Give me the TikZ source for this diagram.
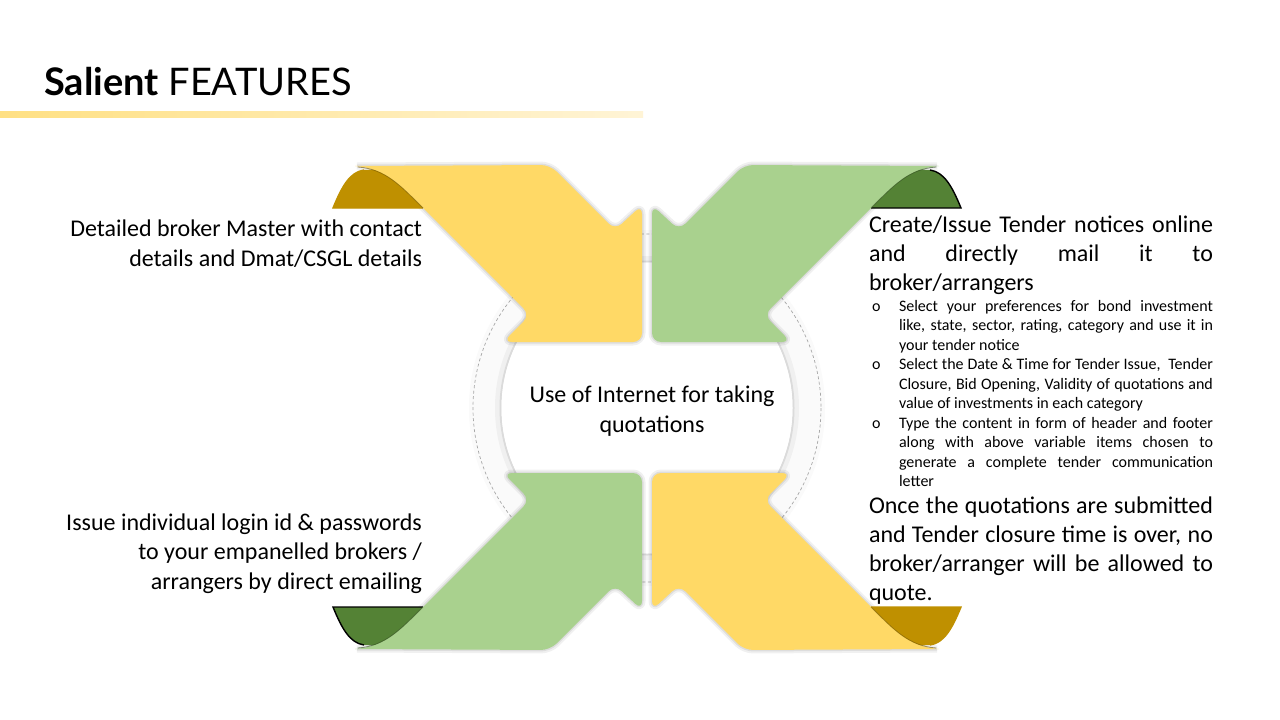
\documentclass[tikz,border=0pt]{standalone}
\usepackage{fontspec}
\setmainfont{Carlito}
\newfontfamily\titlefont{Lato}
\definecolor{ylw}{HTML}{FFD966}
\definecolor{ylwdark}{HTML}{BF9000}
\definecolor{grn}{HTML}{A9D18E}
\definecolor{grndark}{HTML}{548235}
\definecolor{barleft}{HTML}{FFE083}
\definecolor{barright}{HTML}{FFF4D6}
\newcommand{\ribbonshape}[3]{%
  % soft halo
  \draw[black, opacity=0.06, line width=7pt, line join=round]
    (357,166) .. controls (385,168) and (400,185) .. (423,208)
    [rounded corners=9pt] -- (530,315) -- (503,342) -- (642,342) -- (642,205) -- (615,230) -- (550,165)
    [sharp corners] -- (357,166);
  \draw[black, opacity=0.08, line width=3pt, line join=round]
    (357,166) .. controls (385,168) and (400,185) .. (423,208)
    [rounded corners=9pt] -- (530,315) -- (503,342) -- (642,342) -- (642,205) -- (615,230) -- (550,165)
    [sharp corners] -- (357,166);
  % dark curl
  \fill[#2] (333,208) .. controls (342,186) and (350,172) .. (364,170) -- (423,167) -- (423,208) -- cycle;
  \draw[#3, line width=1.4pt] (423,208) -- (333,208) .. controls (342,186) and (350,172) .. (364,170);
  % ribbon
  \fill[#1] (355,166) .. controls (385,168) and (400,185) .. (423,208)
    [rounded corners=9pt] -- (530,315) -- (503,342) -- (642,342) -- (642,205) -- (615,230) -- (550,165)
    [sharp corners] -- (355,166);
  \draw[#2!60!black, line width=0.8pt, opacity=0.6] (358,167) .. controls (385,169) and (400,185) .. (423,208);
}
\tikzset{
  bodytext/.style={font=\fontsize{24}{29.3}\selectfont, inner sep=0pt, outer sep=0pt},
  smalltext/.style={font=\fontsize{16}{19.5}\selectfont, inner sep=0pt, outer sep=0pt},
}
\begin{document}
\begin{tikzpicture}[x=1pt,y=-1pt]
\useasboundingbox (0,0) rectangle (1280,720);
\fill[white] (0,0) rectangle (1280,720);

% title
\node[anchor=base west, inner sep=0pt, font=\titlefont\fontsize{38}{42}\selectfont] (title) at (44,95) {\textbf{Salient} FEATURES};
\shade[left color=barleft, right color=barright] (0,111) rectangle (643,117);

% centre circles
\fill[gray!4] (647,408) circle[radius=178];
\draw[gray!70, dashed, line width=0.7pt, dash pattern=on 3pt off 2.5pt] (647,408) circle[radius=174];
\draw[gray!12, line width=6pt] (647,408) circle[radius=149];
\draw[gray!28, line width=2pt] (647,408) circle[radius=146.5];
\fill[white] (647,408) circle[radius=145.5];

% ribbons
\begin{scope}
  \ribbonshape{ylw}{ylwdark}{ylwdark}
\end{scope}
\begin{scope}[shift={(1294,0)}, xscale=-1]
  \ribbonshape{grn}{grndark}{black}
\end{scope}
\begin{scope}[shift={(0,815)}, yscale=-1]
  \ribbonshape{grn}{grndark}{black}
\end{scope}
\begin{scope}[shift={(1294,815)}, xscale=-1, yscale=-1]
  \ribbonshape{ylw}{ylwdark}{ylwdark}
\end{scope}

% centre text (base anchor = last line)
\node[bodytext, anchor=base, align=center] (ctr) at (652,432) {Use of Internet for taking\\quotations};

% left texts (base anchor = last line)
\node[bodytext, anchor=base east, align=right] (tl) at (422,266) {Detailed broker Master with contact\\details and Dmat/CSGL details};
\node[bodytext, anchor=base east, align=right] (bl) at (422,589) {Issue individual login id \& passwords\\to your empanelled brokers /\\arrangers by direct emailing};

% right texts
\node[bodytext, anchor=base west, text width=344pt, align=justify] (tr) at (869,232)
  {Create/Issue Tender notices online\linebreak and directly mail it to\linebreak broker/arrangers};

\node[smalltext, anchor=base west] (o1) at (872,311) {o};
\node[smalltext, anchor=base west, text width=314pt, align=justify] (p1) at (899,311)
  {Select your preferences for bond investment\linebreak like, state, sector, rating, category and use it in\linebreak your tender notice};
\node[smalltext, anchor=base west] (o2) at (872,369.5) {o};
\node[smalltext, anchor=base west, text width=314pt, align=justify] (p2) at (899,369.5)
  {Select the Date \& Time for Tender Issue,\ \ Tender\linebreak Closure, Bid Opening, Validity of quotations and\linebreak value of investments in each category};
\node[smalltext, anchor=base west] (o3) at (872,428) {o};
\node[smalltext, anchor=base west, text width=314pt, align=justify] (p3) at (899,428)
  {Type the content in form of header and footer\linebreak along with above variable items chosen to\linebreak generate a complete tender communication\linebreak letter};

\node[bodytext, anchor=base west, text width=344pt, align=justify] (br) at (869,513)
  {Once the quotations are submitted\linebreak and Tender closure time is over, no\linebreak broker/arranger will be allowed to\linebreak quote.};
\end{tikzpicture}
\end{document}
